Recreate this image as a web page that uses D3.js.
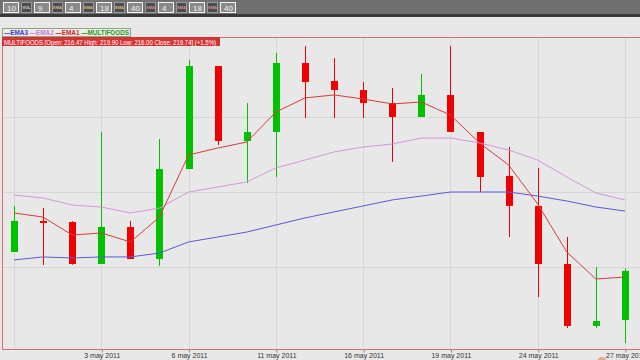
<!DOCTYPE html>
<html>
<head>
<meta charset="utf-8">
<script src="https://cdn.jsdelivr.net/npm/d3@7"></script>
<style>
  html, body { margin: 0; padding: 0; background: #e8e8e8; }
  svg { display: block; font-family: "Liberation Sans", Arial, sans-serif; }
</style>
</head>
<body>
<svg id="chart" width="640" height="360"></svg>
<script>
// trading days (index 0 .. 21)
const days = ["28 apr 2011", "29 apr 2011", "2 may 2011", "3 may 2011", "4 may 2011", "5 may 2011",
  "6 may 2011", "9 may 2011", "10 may 2011", "11 may 2011", "12 may 2011", "13 may 2011",
  "16 may 2011", "17 may 2011", "18 may 2011", "19 may 2011", "20 may 2011", "23 may 2011",
  "24 may 2011", "25 may 2011", "26 may 2011", "27 may 2011"];
const tickIdx = [3, 6, 9, 12, 15, 18, 21];

const open  = [221.00, 223.07, 223.00, 220.20, 222.67, 220.53, 226.53, 233.40, 228.40, 229.00, 233.60,
  232.40, 231.80, 230.93, 230.00, 231.47, 229.00, 226.07, 224.07, 220.20, 216.07, 216.47];
const high  = [224.07, 223.93, 223.05, 229.00, 223.07, 228.53, 233.80, 233.40, 230.93, 234.27, 234.73,
  233.93, 232.33, 231.93, 232.87, 234.73, 229.00, 228.00, 226.60, 222.00, 220.00, 219.90];
const low   = [221.00, 220.13, 220.15, 220.20, 220.53, 220.07, 226.53, 228.13, 225.60, 226.00, 229.93,
  229.93, 229.93, 227.00, 230.00, 229.00, 225.00, 222.00, 218.00, 215.93, 215.93, 214.93];
const close = [223.07, 222.93, 220.20, 222.67, 220.53, 226.53, 233.40, 228.40, 229.00, 233.60, 232.33,
  231.80, 230.93, 230.00, 231.47, 229.00, 226.00, 224.07, 220.20, 216.07, 216.40, 219.74];

const ema1 = [223.60, 223.33, 222.13, 222.27, 221.67, 223.33, 227.47, 227.93, 228.33, 230.33, 231.27,
  231.47, 231.20, 230.87, 231.00, 230.13, 228.27, 226.80, 224.20, 221.00, 219.20, 219.33];
const ema2 = [224.80, 224.60, 224.13, 224.00, 223.60, 223.93, 225.00, 225.33, 225.67, 226.60, 227.13,
  227.67, 228.00, 228.20, 228.60, 228.60, 228.27, 227.80, 227.13, 226.00, 224.93, 224.47];
const ema3 = [220.47, 220.67, 220.60, 220.67, 220.67, 220.93, 221.67, 222.00, 222.33, 222.80, 223.27,
  223.67, 224.07, 224.47, 224.73, 225.00, 225.00, 225.00, 224.73, 224.40, 224.00, 223.73];
const priceGrid = [220, 225, 230];

// toolbar: [kind, text]
const toolbar = [["box", "10"], ["icon", "VOL"], ["box", "9"], ["icon", "EMA"], ["box", "4"],
  ["icon", "EMA"], ["box", "18"], ["icon", "EMA"], ["box", "40"], ["icon", "SMA"], ["box", "4"],
  ["icon", "SMA"], ["box", "18"], ["icon", "SMA"], ["box", "40"]];
const legend = [["EMA3", "#3a3ad0"], ["EMA2", "#c77ad8"], ["EMA1", "#d82020"], ["MULTIFOODS", "#10a010"]];

const svg = d3.select("#chart");
const W = 640, H = 360;
const plot = { left: 2, top: 37, right: 660, bottom: 349 };

const x = d3.scaleLinear().domain([0, 21]).range([14, 625]);
const y = d3.scaleLinear().domain([215, 235]).range([342, 42]);

svg.append("rect").attr("width", W).attr("height", H).attr("fill", "#e8e8e8");

// ---- toolbar
svg.append("rect").attr("width", W).attr("height", 14).attr("fill", "#707070");
svg.append("rect").attr("y", 14).attr("width", W).attr("height", 3).attr("fill", "#3a3a3a");
let tx = 3;
toolbar.forEach(([kind, label]) => {
    if (kind === "box") {
        svg.append("rect").attr("x", tx + 0.5).attr("y", 2.5).attr("width", 15).attr("height", 10)
            .attr("fill", "#8a8a8a").attr("stroke", "#f4f4f4").attr("stroke-width", 1);
        svg.append("text").attr("x", tx + 4).attr("y", 10.5).attr("fill", "#f4f4f4")
            .style("font-size", "8px").text(label);
        tx += 18;
    } else {
        svg.append("rect").attr("x", tx + 0.5).attr("y", 2.5).attr("width", 10).attr("height", 10)
            .attr("fill", "#4c4c4c").attr("stroke", "#9a9a9a");
        svg.append("text").attr("x", tx + 5.5).attr("y", 8.5).attr("text-anchor", "middle")
            .attr("fill", label === "VOL" ? "#dddddd" : (label === "EMA" ? "#d8b890" : "#d89090"))
            .style("font-size", "4px").style("font-weight", "bold").text(label);
        tx += 13;
    }
});

// ---- plot grid
const g = svg.append("g");
g.selectAll("line.hgrid").data(priceGrid).enter().append("line")
    .attr("x1", plot.left).attr("x2", W)
    .attr("y1", d => Math.round(y(d)) + 0.5).attr("y2", d => Math.round(y(d)) + 0.5)
    .attr("stroke", "#d6d6d6");
g.selectAll("line.vgrid").data([0].concat(tickIdx)).enter().append("line")
    .attr("x1", d => Math.round(x(d)) + 0.5).attr("x2", d => Math.round(x(d)) + 0.5)
    .attr("y1", plot.top).attr("y2", plot.bottom)
    .attr("stroke", "#d6d6d6");

// ---- candles
const idx = d3.range(days.length);
const up = i => close[i] >= open[i];
const cCol = i => up(i) ? "#00c000" : "#f00000";
const bw = 7;
const cg = g.append("g");
cg.selectAll("line.wick").data(idx).enter().append("line")
    .attr("x1", i => Math.round(x(i)) + 0.5).attr("x2", i => Math.round(x(i)) + 0.5)
    .attr("y1", i => y(high[i])).attr("y2", i => y(low[i]))
    .attr("stroke", cCol).attr("stroke-width", 1);
cg.selectAll("rect.body").data(idx).enter().append("rect")
    .attr("x", i => Math.round(x(i)) - 3)
    .attr("y", i => y(Math.max(open[i], close[i])))
    .attr("width", bw)
    .attr("height", i => Math.max(2, Math.abs(y(open[i]) - y(close[i]))))
    .attr("fill", cCol);

// ---- moving averages
const line = d3.line().x((d, i) => x(i)).y(d => y(d));
[[ema3, "#5a5ad8"], [ema2, "#d496dc"], [ema1, "#d83c3c"]].forEach(([s, c]) => {
    g.append("path").datum(s).attr("d", line).attr("fill", "none")
        .attr("stroke", c).attr("stroke-width", 1);
});

// ---- border
svg.append("rect").attr("x", plot.left + 0.5).attr("y", plot.top + 0.5)
    .attr("width", plot.right - plot.left).attr("height", plot.bottom - plot.top)
    .attr("fill", "none").attr("stroke", "#d07070").attr("stroke-width", 1);

// ---- x axis
const xAxis = d3.axisBottom(x).tickValues(tickIdx).tickFormat(i => days[i]).tickSize(3).tickPadding(1);
const ax = svg.append("g").attr("transform", `translate(0.5,${plot.bottom + 0.5})`).call(xAxis);
ax.select(".domain").remove();
ax.selectAll("line").attr("stroke", "#d07070");
ax.selectAll("text").attr("fill", "#333").style("font-size", "7px")
    .style("font-family", "\"Liberation Sans\", Arial, sans-serif");

// ---- title bar
svg.append("rect").attr("x", 2).attr("y", 37).attr("width", 218).attr("height", 9).attr("fill", "#d23434");
svg.append("text").attr("x", 4).attr("y", 44.5).attr("fill", "#ffffff")
    .style("font-size", "6.5px")
    .attr("textLength", 212).attr("lengthAdjust", "spacingAndGlyphs")
    .text("MULTIFOODS [Open: 216.47  High: 219.90  Low: 216.00  Close: 219.74] (+1.5%)");

// ---- legend
svg.append("rect").attr("x", 2.5).attr("y", 28.5).attr("width", 128).attr("height", 8)
    .attr("fill", "#ececec").attr("stroke", "#8fa57a");
const lt = svg.append("text").attr("x", 4).attr("y", 35).style("font-size", "7px").style("font-weight", "bold")
    .attr("textLength", 125).attr("lengthAdjust", "spacingAndGlyphs");
legend.forEach(([name, c], k) => {
    lt.append("tspan").attr("fill", c).text((k ? "  " : "") + "—" + name);
});

// cursor blob bottom right
svg.append("circle").attr("cx", 602).attr("cy", 362).attr("r", 5).attr("fill", "#e6a888");
</script>
</body>
</html>
